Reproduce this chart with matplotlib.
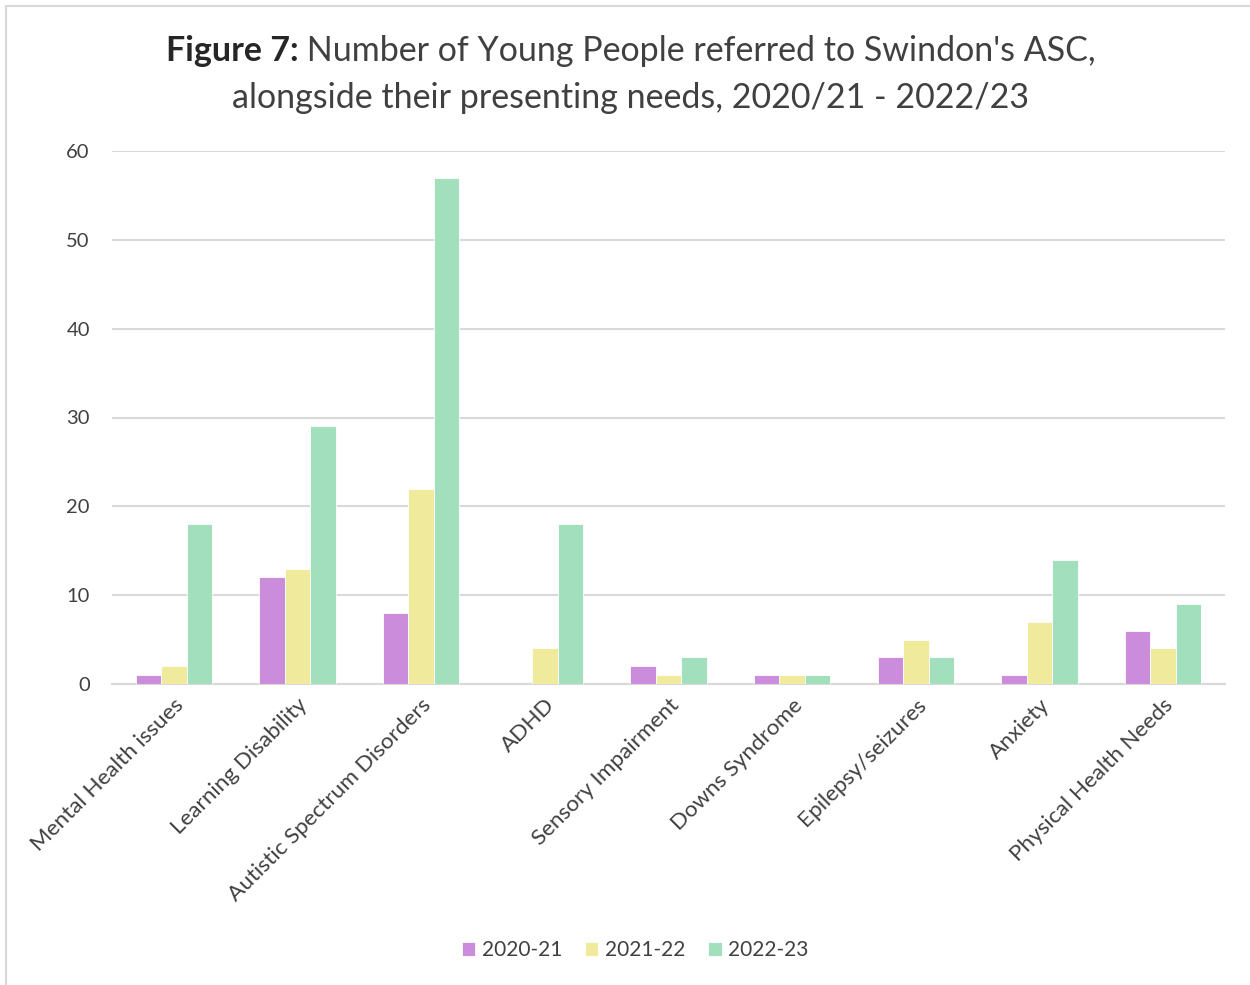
import numpy as np
import matplotlib
matplotlib.use("Agg")
import matplotlib.pyplot as plt
from matplotlib.patches import Rectangle

plt.rcParams['font.family'] = ['Lato', 'DejaVu Sans']

categories = ["Mental Health issues", "Learning Disability", "Autistic Spectrum Disorders",
              "ADHD", "Sensory Impairment", "Downs Syndrome", "Epilepsy/seizures",
              "Anxiety", "Physical Health Needs"]
years = ["2020-21", "2021-22", "2022-23"]
y2020 = [1, 12, 8, 0, 2, 1, 3, 1, 6]
y2021 = [2, 13, 22, 4, 1, 1, 5, 7, 4]
y2022 = [18, 29, 57, 18, 3, 1, 3, 14, 9]
colors = ["#CC8CDC", "#F0EA9C", "#A2DFBC"]
text_col = "#404040"
grid_col = "#D9D9D9"

W, H = 1250, 985
fig = plt.figure(figsize=(W / 100, H / 100), dpi=100)
fig.patches.append(Rectangle((6 / W, -0.01), 1.02, 1 - 6 / H + 0.01,
                             transform=fig.transFigure, fill=False,
                             edgecolor=grid_col, linewidth=1.5))

ax = fig.add_axes([112 / W, 1 - 684 / H, (1225 - 112) / W, (684 - 151) / H])

x = np.arange(len(categories))
w = 0.205
for i, (vals, c, lab) in enumerate(zip([y2020, y2021, y2022], colors, years)):
    ax.bar(x + (i - 1) * w, vals, width=w, color=c, edgecolor="white",
           linewidth=0.6, label=lab, zorder=3)

ax.set_xlim(-0.5, len(categories) - 0.5)
ax.set_ylim(0, 60)
ax.set_yticks(range(0, 61, 10))
ax.yaxis.grid(True, color=grid_col, linewidth=1.5, zorder=0)
for s in ["top", "right", "left"]:
    ax.spines[s].set_visible(False)
ax.spines["bottom"].set_color(grid_col)
ax.spines["bottom"].set_linewidth(1.5)
ax.tick_params(axis="y", length=0, labelsize=14.5, colors=text_col, pad=16)
ax.tick_params(axis="x", length=0, labelsize=16.2, colors=text_col, pad=8)
ax.set_xticks(x)
ax.set_xticklabels(categories, rotation=45, ha="right", rotation_mode="anchor")

# two-part title: bold prefix then regular text, first line centred as a whole
title_size = 24.5
renderer = fig.canvas.get_renderer()
bold = fig.text(0, 1 - 51 / H, "Figure 7:", fontsize=title_size, fontweight="bold",
                color="#262626", ha="left", va="center")
rest = fig.text(0, 1 - 51 / H, " Number of Young People referred to Swindon's ASC,",
                fontsize=title_size, color=text_col, ha="left", va="center")
wb = bold.get_window_extent(renderer).width
wr = rest.get_window_extent(renderer).width
x0 = 631 - (wb + wr) / 2
bold.set_x(x0 / W)
rest.set_x((x0 + wb) / W)
fig.text(630 / W, 1 - 98 / H, "alongside their presenting needs, 2020/21 - 2022/23",
         fontsize=title_size, color=text_col, ha="center", va="center")

ax.legend(loc="center", bbox_to_anchor=((635 - 112) / 1113, 1 - (950 - 151) / (684 - 151)),
          ncol=3, frameon=False, fontsize=15, labelcolor=text_col, handlelength=0.65,
          handleheight=0.65, handletextpad=0.3, columnspacing=1.1)

fig.savefig("out.png", dpi=100)
